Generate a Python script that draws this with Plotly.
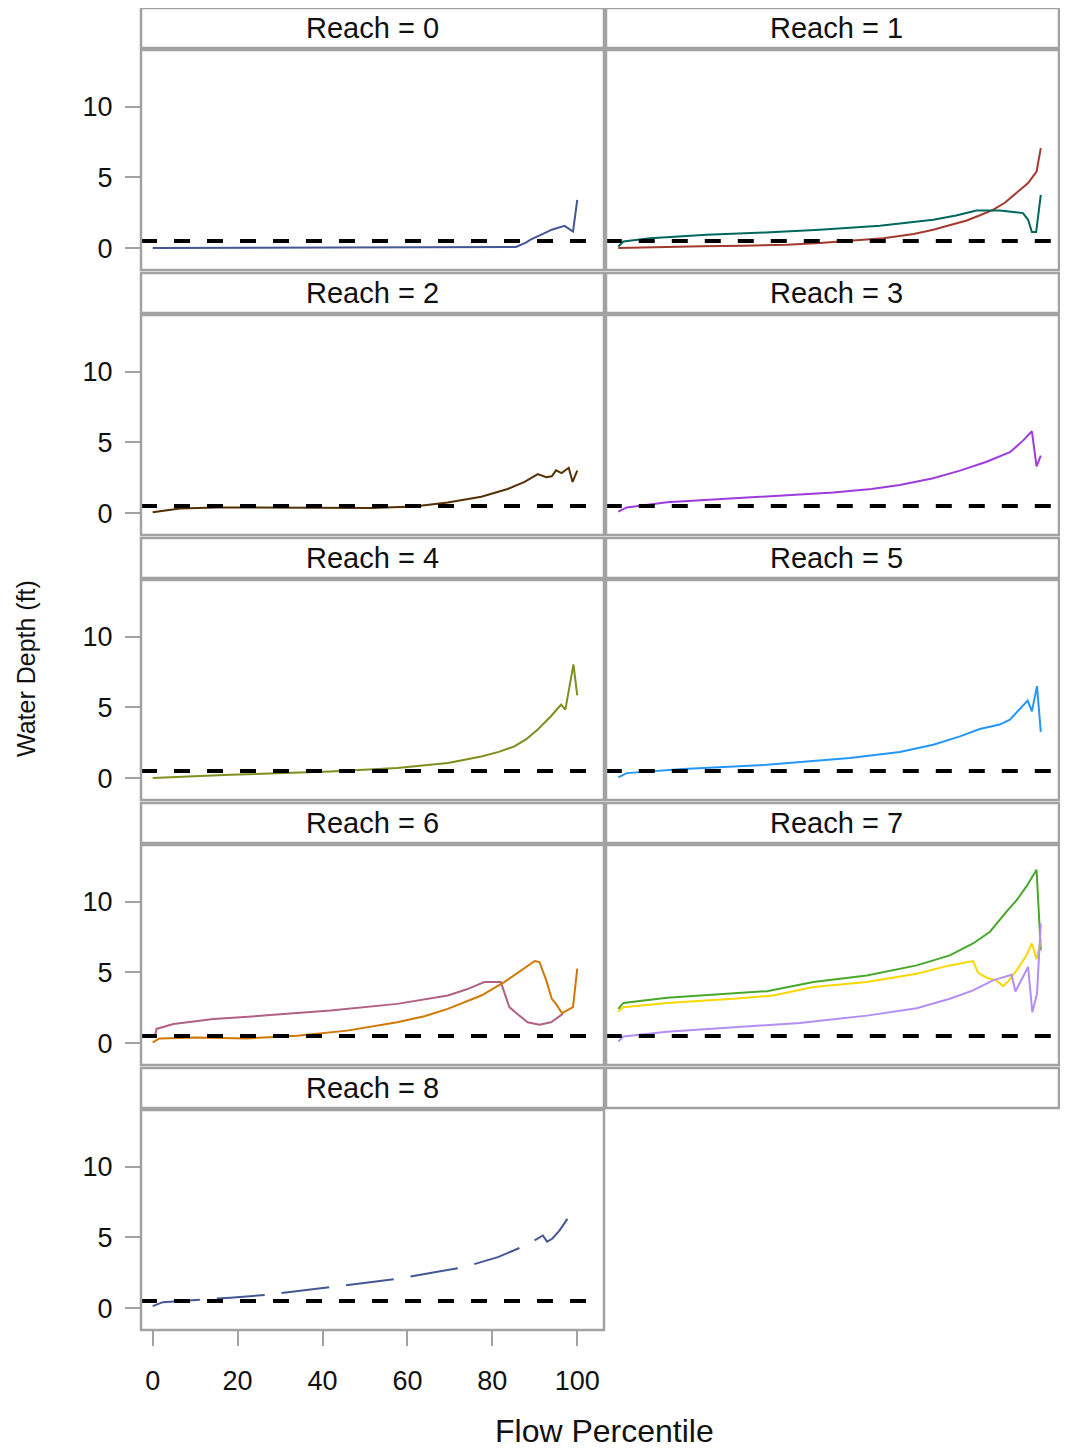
import plotly.graph_objects as go

# ---------------- data (Flow Percentile vs Water Depth) ----------------
panel_titles = ["Reach = 0", "Reach = 1", "Reach = 2", "Reach = 3", "Reach = 4",
                "Reach = 5", "Reach = 6", "Reach = 7", "Reach = 8", ""]

r0_x = [0, 10, 20, 30, 40, 50, 60, 70, 80, 85.6, 88, 89, 92.3, 94, 97, 99, 100]
r0_y = [0.0, 0.01, 0.02, 0.02, 0.03, 0.03, 0.04, 0.05, 0.06, 0.08, 0.4, 0.59, 1.06, 1.3, 1.57, 1.17, 3.41]

r1a_x = [0.2, 10, 20, 30, 40, 47.8, 55, 62.8, 70, 74.6, 78, 82.5, 85.5, 88.7, 91.5, 94.3, 97, 99, 100]
r1a_y = [0.0, 0.08, 0.12, 0.17, 0.24, 0.35, 0.5, 0.7, 1.0, 1.29, 1.58, 1.95, 2.3, 2.7, 3.2, 3.88, 4.6, 5.41, 7.06]
r1b_x = [0.2, 1.4, 7.7, 21.1, 35, 47.8, 62, 68, 74.6, 80, 84.8, 90.3, 95.8, 97, 97.9, 98.9, 100]
r1b_y = [0.11, 0.47, 0.7, 0.94, 1.1, 1.29, 1.57, 1.76, 2.0, 2.3, 2.66, 2.66, 2.47, 2.0, 1.13, 1.13, 3.76]

r2_x = [0, 6.4, 15, 30, 51.5, 61.6, 69.5, 77.4, 83.6, 87.6, 90.7, 92.7, 94, 95, 96.3, 98, 98.9, 100]
r2_y = [0.05, 0.33, 0.4, 0.4, 0.35, 0.47, 0.75, 1.16, 1.7, 2.2, 2.76, 2.53, 2.6, 3.02, 2.83, 3.2, 2.2, 3.0]

r3_x = [0.2, 2.2, 11.7, 31.3, 51, 60, 66.7, 74.6, 80.9, 87.2, 92.7, 95.8, 97.9, 99, 100]
r3_y = [0.1, 0.4, 0.76, 1.11, 1.46, 1.7, 1.98, 2.46, 3.0, 3.63, 4.3, 5.12, 5.78, 3.3, 4.06]

r4_x = [0, 18.3, 41.9, 57.6, 69.5, 77.4, 81.5, 85.2, 88, 90.7, 93.8, 96.2, 97.2, 99.1, 100]
r4_y = [0.0, 0.23, 0.47, 0.71, 1.06, 1.53, 1.85, 2.24, 2.75, 3.43, 4.37, 5.2, 4.84, 8.04, 5.84]

r5_x = [0.2, 2.2, 15.6, 35.3, 54.9, 66.7, 74.6, 80.9, 85.6, 90.3, 92.7, 95.4, 96.9, 97.9, 99.1, 100]
r5_y = [0.05, 0.35, 0.64, 0.94, 1.42, 1.84, 2.36, 2.95, 3.47, 3.78, 4.13, 4.96, 5.48, 4.72, 6.5, 3.26]

r6a_x = [0.5, 0.9, 4.9, 14.3, 26.1, 41.9, 57.6, 69.5, 74, 78.1, 82, 84, 85.9, 88.3, 91.1, 93.8, 96.6]
r6a_y = [0.47, 1.0, 1.35, 1.7, 1.94, 2.3, 2.77, 3.36, 3.8, 4.31, 4.31, 2.54, 2.06, 1.47, 1.3, 1.47, 2.06]
r6b_x = [0, 1.6, 10.4, 22.2, 34, 45.8, 57.6, 64, 69.5, 77.4, 82.8, 86.8, 90, 91.1, 92.7, 94, 95, 96.4, 99, 100]
r6b_y = [0.05, 0.33, 0.4, 0.33, 0.52, 0.88, 1.47, 1.9, 2.42, 3.36, 4.31, 5.14, 5.8, 5.73, 4.43, 3.13, 2.77, 2.11, 2.54, 5.26]

r7a_x = [0.2, 1.4, 11.7, 27.4, 35.3, 46.3, 58.9, 70.7, 78.5, 84, 88, 91.9, 94.3, 96.6, 99, 100]
r7a_y = [2.42, 2.84, 3.2, 3.48, 3.67, 4.31, 4.78, 5.49, 6.2, 7.04, 7.87, 9.29, 10.1, 11.07, 12.25, 6.56]
r7b_x = [0.2, 1.4, 11.7, 27.4, 36.8, 46.3, 58.9, 70.7, 78.5, 84, 85.2, 87.2, 89.5, 91.1, 92.3, 94.3, 96.6, 97.9, 99, 100]
r7b_y = [2.23, 2.54, 2.84, 3.13, 3.36, 3.96, 4.31, 4.9, 5.49, 5.8, 4.97, 4.62, 4.43, 4.03, 4.36, 5.14, 6.2, 7.04, 5.92, 7.16]
r7c_x = [0.2, 1.4, 11.7, 27.4, 43.1, 58.9, 70.7, 78.5, 84, 88.7, 93.1, 94, 95.2, 97, 98, 99.1, 100]
r7c_y = [0.1, 0.47, 0.8, 1.11, 1.42, 1.94, 2.46, 3.13, 3.72, 4.43, 4.83, 3.65, 4.36, 5.38, 2.18, 3.48, 8.46]

r8_x = [0, 2.4, 18.3, 26.9, 41.9, 57.6, 73.4, 81.3, 88.3, 91.9, 92.9, 94.1, 95.8, 97.8, 99, 100]
r8_y = [0.14, 0.42, 0.73, 0.94, 1.48, 2.07, 2.9, 3.6, 4.49, 5.13, 4.7, 4.9, 5.48, 6.36, 6.5, 6.5]

ref_x = [-2.75, 102.8]
ref_y = [0.5, 0.5]

x_ticks = [0, 20, 40, 60, 80, 100]
y_ticks = [0, 5, 10]

# (panel index, x, y, color, dash)
series = [
    (0, r0_x, r0_y, "#445694", "solid"),
    (1, r1a_x, r1a_y, "#A23A2E", "solid"),
    (1, r1b_x, r1b_y, "#01665E", "solid"),
    (2, r2_x, r2_y, "#543005", "solid"),
    (3, r3_x, r3_y, "#9D3CDB", "solid"),
    (4, r4_x, r4_y, "#7F8E1F", "solid"),
    (5, r5_x, r5_y, "#2597FA", "solid"),
    (6, r6a_x, r6a_y, "#B26084", "solid"),
    (6, r6b_x, r6b_y, "#D17800", "solid"),
    (7, r7a_x, r7a_y, "#47A82A", "solid"),
    (7, r7b_x, r7b_y, "#F9D800", "solid"),
    (7, r7c_x, r7c_y, "#B38EF3", "solid"),
    (8, r8_x, r8_y, "#445694", "48px,17px"),
]

# ---------------- layout geometry (page pixels; page body has an 8px margin) ----------------
OFF = 8
W, H = 1052, 1440
col_x = [(141, 604), (606, 1059)]
col_title_x = [372.5, 836.5]
col_xrange = [[-2.75, 106.3], [-2.7, 104.3]]
ROW_STEP = 265
FONT = "Liberation Sans, Arial, sans-serif"
GRAY = "#a2a2a2"
TXT = "#111111"


def px(x):
    return (x - OFF) / W


def py(y):
    return 1 - (y - OFF) / H


fig = go.Figure()

for (k, xs, ys, col, dash) in series:
    sfx = "" if k == 0 else str(k + 1)
    fig.add_trace(go.Scatter(x=xs, y=ys, mode="lines", xaxis="x" + sfx, yaxis="y" + sfx,
                             line=dict(color=col, width=2, dash=dash), showlegend=False,
                             hoverinfo="skip"))

for k in range(9):
    sfx = "" if k == 0 else str(k + 1)
    fig.add_trace(go.Scatter(x=ref_x, y=ref_y, mode="lines", xaxis="x" + sfx, yaxis="y" + sfx,
                             line=dict(color="black", width=4, dash="16px,17px"),
                             showlegend=False, hoverinfo="skip"))

layout = dict(width=W, height=H, margin=dict(l=0, r=0, t=0, b=0),
              paper_bgcolor="white", plot_bgcolor="white",
              font=dict(family=FONT, color=TXT, size=27), showlegend=False)

shapes = []
annotations = []
for k in range(10):
    r, c = divmod(k, 2)
    x0, x1 = col_x[c]
    top = 50 + ROW_STEP * r
    bot = 270 + ROW_STEP * r
    htop = 8 + ROW_STEP * r
    hbot = 48 + ROW_STEP * r
    sfx = "" if k == 0 else str(k + 1)
    bottom_row = (r == 4)
    xa = dict(domain=[px(x0), px(x1)], range=col_xrange[c], anchor="y" + sfx,
              showgrid=False, zeroline=False, showline=False,
              tickvals=x_ticks, ticks="outside" if bottom_row else "",
              ticklen=15, tickwidth=2, tickcolor=GRAY,
              showticklabels=bottom_row, tickfont=dict(size=27, family=FONT, color=TXT),
              ticklabelstandoff=12)
    ya = dict(domain=[py(bot), py(top)], range=[-1.55, 14.0], anchor="x" + sfx,
              showgrid=False, zeroline=False, showline=False,
              tickvals=y_ticks, ticks="outside" if c == 0 else "",
              ticklen=15, tickwidth=2, tickcolor=GRAY,
              showticklabels=(c == 0), tickfont=dict(size=27, family=FONT, color=TXT),
              ticklabelstandoff=7)
    if k == 9:
        xa.update(showline=True, linecolor="#d8d8d8", linewidth=2)
    layout["xaxis" + sfx] = xa
    layout["yaxis" + sfx] = ya

    # header box
    shapes.append(dict(type="rect", xref="paper", yref="paper",
                       x0=px(x0), x1=px(x1), y0=py(hbot), y1=py(htop),
                       line=dict(color=GRAY, width=2.5), fillcolor="white", layer="below"))
    if panel_titles[k]:
        annotations.append(dict(text=panel_titles[k], xref="paper", yref="paper",
                                x=px(col_title_x[c]), y=py((htop + hbot) / 2),
                                xanchor="center", yanchor="middle", showarrow=False,
                                font=dict(size=29, family=FONT, color=TXT)))
    # plot frame
    if k < 9:
        shapes.append(dict(type="rect", xref="paper", yref="paper",
                           x0=px(x0), x1=px(x1), y0=py(bot), y1=py(top),
                           line=dict(color=GRAY, width=2.5), layer="above"))

annotations.append(dict(text="Water Depth (ft)", xref="paper", yref="paper",
                        x=px(26), y=py(669), textangle=-90, showarrow=False,
                        xanchor="center", yanchor="middle",
                        font=dict(size=25, family=FONT, color=TXT)))
annotations.append(dict(text="Flow Percentile", xref="paper", yref="paper",
                        x=px(604), y=py(1431), showarrow=False,
                        xanchor="center", yanchor="middle",
                        font=dict(size=32, family=FONT, color=TXT)))

layout["shapes"] = shapes
layout["annotations"] = annotations
fig.update_layout(**layout)

fig.write_html("out.html")
